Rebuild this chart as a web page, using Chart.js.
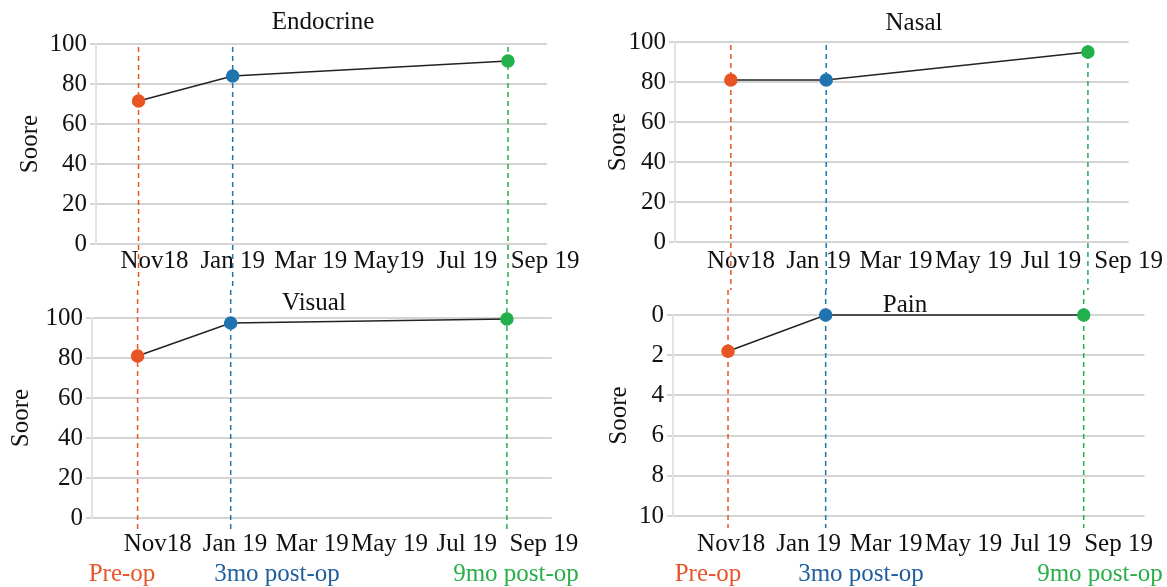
<!DOCTYPE html>
<html>
<head>
<meta charset="utf-8">
<title>Scores over time</title>
<script src="https://cdn.jsdelivr.net/npm/chart.js@4"></script>
<style>
  body {
    margin: 0;
    background: #fff;
    width: 1167px;
    height: 587px;
    position: relative;
    overflow: hidden;
    font-family: "Liberation Serif", "Times New Roman", serif;
  }
  .panel { position: absolute; }
  .stage {
    position: absolute;
    top: 558px;
    font-size: 25px;
    line-height: 30px;
    white-space: nowrap;
    transform: translateX(-50%);
  }
</style>
</head>
<body>
<div class="panel" style="left:0;top:0;width:590px;height:290px"><canvas id="endocrine"></canvas></div>
<div class="panel" style="left:590px;top:0;width:577px;height:290px"><canvas id="nasal"></canvas></div>
<div class="panel" style="left:0;top:290px;width:590px;height:297px"><canvas id="visual"></canvas></div>
<div class="panel" style="left:590px;top:290px;width:577px;height:297px"><canvas id="pain"></canvas></div>

<div class="stage" style="left:122px;color:#e8552a">Pre-op</div>
<div class="stage" style="left:277px;color:#1f5f9e">3mo post-op</div>
<div class="stage" style="left:516px;color:#2aae4a">9mo post-op</div>
<div class="stage" style="left:708px;color:#e8552a">Pre-op</div>
<div class="stage" style="left:861px;color:#1f5f9e">3mo post-op</div>
<div class="stage" style="left:1100px;color:#2aae4a">9mo post-op</div>

<script>
// months counted from Nov 2018
const tickMonths = [0, 2, 4, 6, 8, 10];
const endocrineTickLabels = ["Nov18", "Jan 19", "Mar 19", "May19", "Jul 19", "Sep 19"];
const otherTickLabels = ["Nov18", "Jan 19", "Mar 19", "May 19", "Jul 19", "Sep 19"];

const stages = ["Pre-op", "3mo post-op", "9mo post-op"];
const stageColors = ["#e85424", "#1f74b0", "#22b04a"];

// visit dates (months) and scores
const endocrineMonths = [-0.41, 2.0, 9.05];
const endocrineScores = [71.5, 84, 91.5];

const nasalMonths = [-0.26, 2.2, 8.95];
const nasalScores = [81, 81, 95];

const visualMonths = [-0.52, 1.89, 9.04];
const visualScores = [81, 97.5, 99.5];

const painMonths = [-0.08, 2.44, 9.1];
const painScores = [1.8, 0, 0];

const FONT = "Liberation Serif";
const FONT_SIZE = 25;

// dashed vertical line through each visit
const stageLines = {
  id: "stageLines",
  beforeDatasetsDraw(chart, args, opts) {
    const { ctx, chartArea, scales } = chart;
    const pts = chart.data.datasets[0].data;
    ctx.save();
    ctx.lineWidth = 1.5;
    ctx.setLineDash([5, 4]);
    pts.forEach((p, i) => {
      const px = scales.x.getPixelForValue(p.x);
      ctx.strokeStyle = stageColors[i];
      ctx.beginPath();
      ctx.moveTo(px, opts.fromTop ? 0 : chartArea.top + 3);
      ctx.lineTo(px, opts.fromTop ? chartArea.bottom + 12 : chart.height);
      ctx.stroke();
    });
    ctx.restore();
  }
};

// panel title drawn at a fixed spot
const panelTitle = {
  id: "panelTitle",
  afterDraw(chart, args, opts) {
    const ctx = chart.ctx;
    ctx.save();
    ctx.font = FONT_SIZE + "px '" + FONT + "'";
    ctx.fillStyle = "#111";
    ctx.textAlign = "center";
    ctx.textBaseline = "middle";
    ctx.fillText(opts.text, opts.x, opts.y);
    ctx.restore();
  }
};

function makePanel(id, p) {
  const canvas = document.getElementById(id);
  const w = canvas.parentNode.clientWidth;
  const h = canvas.parentNode.clientHeight;
  const points = p.months.map((m, i) => ({ x: m, y: p.scores[i] }));

  return new Chart(canvas, {
    type: "line",
    data: {
      datasets: [{
        label: p.title,
        data: points,
        borderColor: "#222",
        borderWidth: 1.5,
        pointRadius: 6,
        pointHoverRadius: 6,
        pointBackgroundColor: stageColors,
        pointBorderColor: stageColors,
        tension: 0,
        clip: false
      }]
    },
    options: {
      responsive: true,
      maintainAspectRatio: false,
      animation: false,
      layout: {
        padding: { left: 0, top: p.area.top, right: w - p.area.right, bottom: 0 }
      },
      plugins: {
        legend: { display: false },
        tooltip: { enabled: false },
        stageLines: { fromTop: p.fromTop },
        panelTitle: { text: p.title, x: p.titleX, y: p.titleY }
      },
      scales: {
        x: {
          type: "linear",
          min: p.xMin,
          max: p.xMax,
          afterBuildTicks: (scale) => {
            scale.ticks = tickMonths.map((v) => ({ value: v }));
          },
          afterFit: (scale) => { scale.height = h - p.area.bottom; },
          ticks: {
            autoSkip: false,
            maxRotation: 0,
            padding: p.xPad,
            color: "#111",
            font: { family: FONT, size: FONT_SIZE },
            callback: (v, i) => p.tickLabels[i]
          },
          grid: { display: false, drawTicks: false },
          border: { display: false }
        },
        y: {
          min: p.yMin,
          max: p.yMax,
          reverse: !!p.reverse,
          afterFit: (scale) => { scale.width = p.area.left; },
          ticks: {
            stepSize: p.step,
            padding: 3,
            color: "#111",
            font: { family: FONT, size: FONT_SIZE }
          },
          grid: { color: "#d4d4d4", lineWidth: 2, tickLength: 6 },
          border: { display: true, color: "#e2e2e2", width: 2 },
          title: {
            display: true,
            text: "Soore",
            color: "#111",
            font: { family: FONT, size: FONT_SIZE },
            padding: { top: p.yTitlePad, bottom: 0 }
          }
        }
      }
    },
    plugins: [stageLines, panelTitle]
  });
}

makePanel("endocrine", {
  title: "Endocrine", titleX: 323, titleY: 22,
  months: endocrineMonths, scores: endocrineScores, tickLabels: endocrineTickLabels,
  xMin: -1.5, xMax: 10.05, yMin: 0, yMax: 100, step: 20,
  area: { left: 96, right: 547, top: 44, bottom: 244 },
  xPad: 2, yTitlePad: 15, fromTop: false
});

makePanel("nasal", {
  title: "Nasal", titleX: 324, titleY: 23,
  months: nasalMonths, scores: nasalScores, tickLabels: otherTickLabels,
  xMin: -1.7, xMax: 10, yMin: 0, yMax: 100, step: 20,
  area: { left: 85, right: 540, top: 42, bottom: 242 },
  xPad: 4, yTitlePad: 13, fromTop: false
});

makePanel("visual", {
  title: "Visual", titleX: 314, titleY: 13,
  months: visualMonths, scores: visualScores, tickLabels: otherTickLabels,
  xMin: -1.7, xMax: 10.2, yMin: 0, yMax: 100, step: 20,
  area: { left: 92, right: 552, top: 28, bottom: 228 },
  xPad: 11, yTitlePad: 6, fromTop: true
});

makePanel("pain", {
  title: "Pain", titleX: 315, titleY: 15,
  months: painMonths, scores: painScores, tickLabels: otherTickLabels,
  xMin: -1.5, xMax: 10.67, yMin: 0, yMax: 10, step: 2, reverse: true,
  area: { left: 83, right: 558, top: 25, bottom: 226 },
  xPad: 13, yTitlePad: 14, fromTop: true
});
</script>
</body>
</html>
